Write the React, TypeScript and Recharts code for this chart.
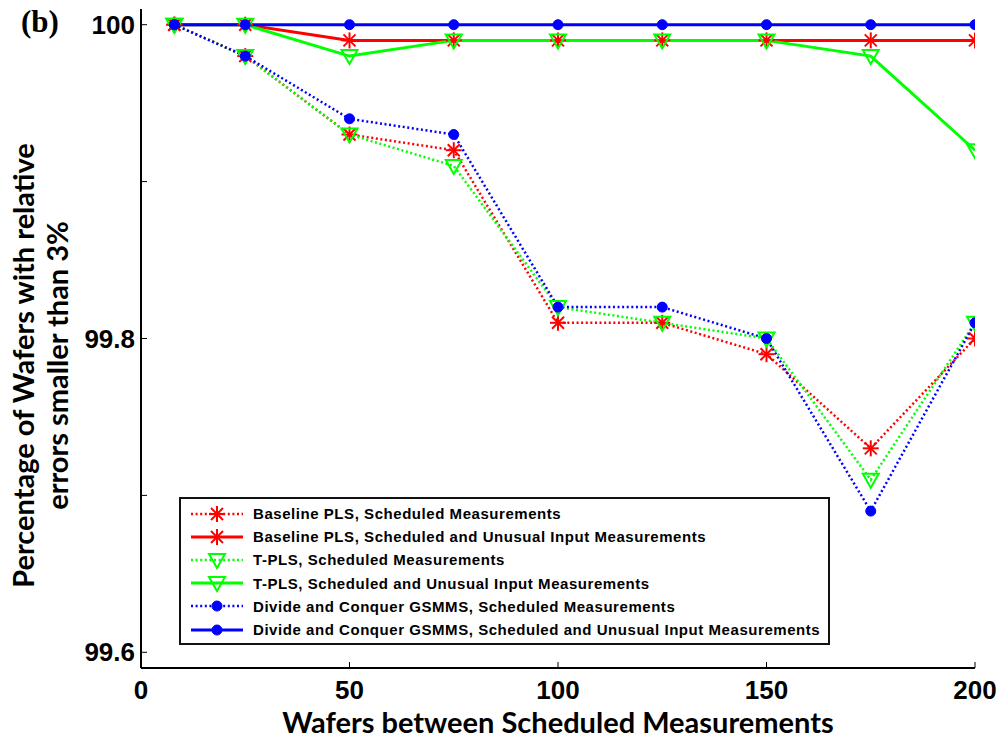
import React from 'react';
import { LineChart, Line, XAxis, YAxis, Legend } from 'recharts';

const wafers = [8, 25, 50, 75, 100, 125, 150, 175, 200];
const baselineSched = [100, 99.98, 99.93, 99.92, 99.81, 99.81, 99.79, 99.73, 99.8];
const baselineUnusual = [100, 100, 99.99, 99.99, 99.99, 99.99, 99.99, 99.99, 99.99];
const tplsSched = [100, 99.98, 99.93, 99.91, 99.82, 99.81, 99.8, 99.71, 99.81];
const tplsUnusual = [100, 100, 99.98, 99.99, 99.99, 99.99, 99.99, 99.98, 99.92];
const gsmmsSched = [100, 99.98, 99.94, 99.93, 99.82, 99.82, 99.8, 99.69, 99.81];
const gsmmsUnusual = [100, 100, 100, 100, 100, 100, 100, 100, 100];

const xTicks = [0, 50, 100, 150, 200];
const yTicks = [99.6, 99.7, 99.8, 99.9, 100];
const yLabeled = [99.6, 99.8, 100];

const series = [
  { key: 'bs', name: 'Baseline PLS, Scheduled Measurements', values: baselineSched, color: '#ff0000', dashed: true, marker: 'star' },
  { key: 'bu', name: 'Baseline PLS, Scheduled and Unusual Input Measurements', values: baselineUnusual, color: '#ff0000', dashed: false, marker: 'star' },
  { key: 'ts', name: 'T-PLS, Scheduled Measurements', values: tplsSched, color: '#00ff00', dashed: true, marker: 'tri' },
  { key: 'tu', name: 'T-PLS, Scheduled and Unusual Input Measurements', values: tplsUnusual, color: '#00ff00', dashed: false, marker: 'tri' },
  { key: 'gs', name: 'Divide and Conquer GSMMS, Scheduled Measurements', values: gsmmsSched, color: '#0000ff', dashed: true, marker: 'dot' },
  { key: 'gu', name: 'Divide and Conquer GSMMS, Scheduled and Unusual Input Measurements', values: gsmmsUnusual, color: '#0000ff', dashed: false, marker: 'dot' },
];

const data = wafers.map((x, i) => {
  const row: any = { x };
  series.forEach((s) => (row[s.key] = s.values[i]));
  return row;
});

const DOTTED = '2 2.6';
const NUM_FONT = '"Liberation Sans", Arial, sans-serif';
const LABEL_FONT = 'Lato, "Open Sans", sans-serif';

function Marker({ type, cx, cy, color }: any) {
  if (cx == null || cy == null) return null;
  if (type === 'star') {
    return (
      <g stroke={color} strokeWidth={2}>
        <line x1={cx - 8} y1={cy} x2={cx + 8} y2={cy} />
        <line x1={cx} y1={cy - 8} x2={cx} y2={cy + 8} />
        <line x1={cx - 6} y1={cy - 6} x2={cx + 6} y2={cy + 6} />
        <line x1={cx - 6} y1={cy + 6} x2={cx + 6} y2={cy - 6} />
      </g>
    );
  }
  if (type === 'tri') {
    return (
      <polygon
        points={`${cx - 8},${cy - 6} ${cx + 8},${cy - 6} ${cx},${cy + 8}`}
        fill="none"
        stroke={color}
        strokeWidth={2}
      />
    );
  }
  return <circle cx={cx} cy={cy} r={5} fill={color} stroke={color} strokeWidth={1} />;
}

const fmtY = (v: number) => (v === 100 ? '100' : v.toFixed(1));

const LeftTick = (p: any) => {
  const { x, y, payload } = p;
  const show = yLabeled.some((v) => Math.abs(v - payload.value) < 1e-6);
  return (
    <g>
      <line x1={x} y1={y} x2={x + 6} y2={y} stroke="#000" strokeWidth={1} />
      {show && (
        <text x={x - 6} y={y + 9} textAnchor="end" fontFamily={NUM_FONT} fontWeight="bold" fontSize={26} fill="#000">
          {fmtY(payload.value)}
        </text>
      )}
    </g>
  );
};

const RightTick = (p: any) => {
  const { x, y } = p;
  return <line x1={x - 6} y1={y} x2={x} y2={y} stroke="#000" strokeWidth={1} />;
};

const BottomTick = (p: any) => {
  const { x, y, payload } = p;
  return (
    <g>
      <line x1={x} y1={y - 6} x2={x} y2={y} stroke="#000" strokeWidth={1} />
      <text x={x} y={y + 31} textAnchor="middle" fontFamily={NUM_FONT} fontWeight="bold" fontSize={26} fill="#000">
        {payload.value}
      </text>
    </g>
  );
};

const TopTick = (p: any) => {
  const { x, y } = p;
  return <line x1={x} y1={y} x2={x} y2={y + 6} stroke="#000" strokeWidth={1} />;
};

const YLabel = (props: any) => {
  const vb = props.viewBox || { x: 0, y: 9, width: 141, height: 659 };
  const cy = vb.y + vb.height / 2 + 27;
  const x1 = vb.x + 34;
  const x2 = vb.x + 68;
  return (
    <g>
      <text x={21} y={32} fontFamily='"Liberation Serif", "Times New Roman", serif' fontWeight="bold" fontSize={31} fill="#000">
        (b)
      </text>
      <text x={x1} y={cy} transform={`rotate(-90 ${x1} ${cy})`} textAnchor="middle" fontFamily={LABEL_FONT} fontWeight="bold" fontSize={29} fill="#000">
        Percentage of Wafers with relative
      </text>
      <text x={x2} y={cy} transform={`rotate(-90 ${x2} ${cy})`} textAnchor="middle" fontFamily={LABEL_FONT} fontWeight="bold" fontSize={29} fill="#000">
        errors smaller than 3%
      </text>
    </g>
  );
};

const XLabel = (props: any) => {
  const vb = props.viewBox || { x: 141, y: 668, width: 834, height: 74 };
  return (
    <text x={vb.x + vb.width / 2} y={vb.y + 65} textAnchor="middle" fontFamily={LABEL_FONT} fontWeight="bold" fontSize={29} fill="#000">
      Wafers between Scheduled Measurements
    </text>
  );
};

const LegendBox = () => (
  <div
    style={{
      width: 651,
      height: 148,
      boxSizing: 'border-box',
      border: '2px solid #111',
      background: '#fff',
      paddingTop: 3,
      paddingLeft: 8,
    }}
  >
    {series.map((s) => (
      <div key={s.key} style={{ display: 'flex', alignItems: 'center', height: 23.2 }}>
        <svg width={56} height={20} style={{ display: 'block', flex: 'none' }}>
          <line x1={2} y1={10} x2={54} y2={10} stroke={s.color} strokeWidth={s.dashed ? 2.5 : 3} strokeDasharray={s.dashed ? DOTTED : undefined} />
          <Marker type={s.marker} cx={28} cy={10} color={s.color} />
        </svg>
        <span
          style={{
            marginLeft: 8,
            fontFamily: NUM_FONT,
            fontWeight: 'bold',
            fontSize: 15,
            color: '#000',
            whiteSpace: 'nowrap',
            letterSpacing: 0.55,
          }}
        >
          {s.name}
        </span>
      </div>
    ))}
  </div>
);

export default function App() {
  return (
    <div style={{ position: 'absolute', left: 0, top: 0, width: 1000, height: 742, background: '#fff' }}>
      <LineChart width={1000} height={742} data={data} margin={{ top: 9, right: 25, bottom: 0, left: 0 }}>
        <XAxis
          dataKey="x"
          type="number"
          domain={[0, 200]}
          ticks={xTicks}
          interval={0}
          allowDataOverflow
          height={74}
          tickSize={0}
          tickMargin={0}
          tickLine={false}
          axisLine={{ stroke: '#000', strokeWidth: 2 }}
          tick={<BottomTick />}
          label={<XLabel />}
        />
        <XAxis
          xAxisId="top"
          orientation="top"
          dataKey="x"
          type="number"
          domain={[0, 200]}
          ticks={xTicks}
          interval={0}
          allowDataOverflow
          height={0}
          tickSize={0}
          tickMargin={0}
          tickLine={false}
          axisLine={{ stroke: '#000', strokeWidth: 2 }}
          tick={<TopTick />}
        />
        <YAxis
          type="number"
          domain={[99.59, 100.01]}
          ticks={yTicks}
          interval={0}
          allowDataOverflow
          width={141}
          tickSize={0}
          tickMargin={0}
          tickLine={false}
          axisLine={{ stroke: '#000', strokeWidth: 2 }}
          tick={<LeftTick />}
          label={<YLabel />}
        />
        <YAxis
          yAxisId="right"
          orientation="right"
          type="number"
          domain={[99.59, 100.01]}
          ticks={yTicks}
          interval={0}
          allowDataOverflow
          width={0}
          tickSize={0}
          tickMargin={0}
          tickLine={false}
          axisLine={{ stroke: '#000', strokeWidth: 2 }}
          tick={<RightTick />}
        />
        {series.map((s) => (
          <Line
            key={s.key}
            dataKey={s.key}
            name={s.name}
            stroke={s.color}
            strokeWidth={s.dashed ? 2.5 : 3}
            strokeDasharray={s.dashed ? DOTTED : undefined}
            isAnimationActive={false}
            dot={(p: any) => <Marker key={`${s.key}-${p.index}`} type={s.marker} cx={p.cx} cy={p.cy} color={s.color} />}
            activeDot={false}
          />
        ))}
        <Legend
          layout="vertical"
          align="center"
          verticalAlign="middle"
          wrapperStyle={{ position: 'absolute', left: 179, top: 497, width: 651, height: 148, margin: 0, padding: 0 }}
          content={() => <LegendBox />}
        />
      </LineChart>
    </div>
  );
}
